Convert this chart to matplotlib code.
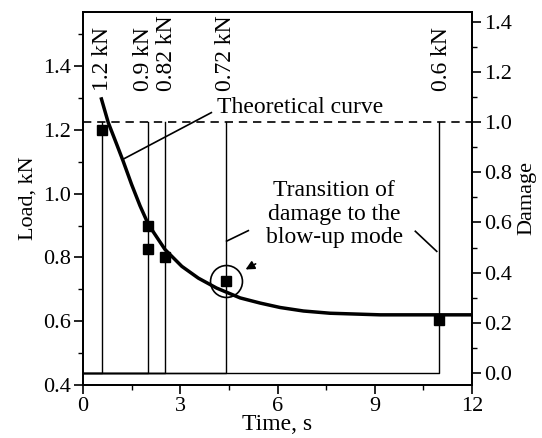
import numpy as np
import matplotlib.pyplot as plt
from matplotlib.ticker import MultipleLocator

plt.rcParams['font.family'] = ['Liberation Serif', 'DejaVu Serif']
plt.rcParams['font.size'] = 16

# theoretical curve
theory_t = [0.556, 0.78, 1.04, 1.24, 1.50, 1.76, 2.02, 2.53, 3.05, 3.56, 4.12, 4.85, 5.46, 6.08, 6.8, 7.62, 9.17, 12.0]
theory_L = [1.302, 1.223, 1.155, 1.102, 1.029, 0.962, 0.903, 0.825, 0.772, 0.735, 0.704, 0.673, 0.657, 0.643, 0.632, 0.625, 0.620, 0.620]

# experimental points
exp_t = [0.6, 2.0, 2.0, 2.53, 4.4, 10.98]
exp_L = [1.20, 0.90, 0.825, 0.80, 0.725, 0.605]

# failure times of the specimens (damage jumps 0 -> 1)
fail_t = [0.6, 2.0, 2.53, 4.4, 10.98]
fail_labels = ['1.2 kN', '0.9 kN', '0.82 kN', '0.72 kN', '0.6 kN']
label_shift = [0, -3, 1, 0, 2]  # points

fig = plt.figure(figsize=(5.42, 4.38), dpi=100)
ax = fig.add_axes([0.153, 0.121, 0.718, 0.852])
ax2 = ax.twinx()

# damage steps
for t in fail_t:
    ax2.plot([0, t, t], [0, 0, 1], color='black', lw=1.0)
ax2.axhline(1.0, color='black', lw=1.2, dashes=(5, 3.5))

ax.plot(theory_t, theory_L, color='black', lw=2.5, solid_capstyle='butt')
ax.plot(exp_t, exp_L, 's', color='black', ms=7.5, zorder=5)

# circle around the 0.72 kN point
ax.plot(exp_t[4], exp_L[4], 'o', mfc='none', mec='black', ms=23, mew=1.2)
ax.annotate('', xy=(4.94, 0.758), xytext=(5.40, 0.784),
            arrowprops=dict(arrowstyle='-|>', color='black', lw=1.2, mutation_scale=13))

# labels above lines
for t, lab, dx in zip(fail_t, fail_labels, label_shift):
    ax.annotate(lab, xy=(t, 1.321), xytext=(dx, 0), textcoords='offset points',
                rotation=90, ha='center', va='bottom', fontsize=17)

ax.text(4.14, 1.271, 'Theoretical curve', ha='left', va='center', fontsize=17)
ax.plot([3.96, 1.24], [1.254, 1.108], color='black', lw=1.2)

ax.text(7.75, 0.935, 'Transition of\ndamage to the\nblow-up mode', ha='center', va='center',
        fontsize=17, linespacing=1.15)
ax.plot([4.43, 5.10], [0.851, 0.884], color='black', lw=1.2)
ax.plot([10.25, 10.91], [0.882, 0.819], color='black', lw=1.2)

ax.set_xlim(0, 12)
ax.set_ylim(0.4, 1.57)
ax2.set_ylim(-0.048, 1.44)

ax.xaxis.set_major_locator(MultipleLocator(3))
ax.xaxis.set_minor_locator(MultipleLocator(1.5))
ax.yaxis.set_major_locator(MultipleLocator(0.2))
ax.yaxis.set_minor_locator(MultipleLocator(0.1))
ax2.yaxis.set_major_locator(MultipleLocator(0.2))
ax2.yaxis.set_minor_locator(MultipleLocator(0.1))

ax.set_yticks(np.arange(0.4, 1.41, 0.2))
ax.set_yticklabels(['0.4', '0.6', '0.8', '1.0', '1.2', '1.4'])
ax2.set_yticks(np.arange(0.0, 1.41, 0.2))
ax2.set_yticklabels(['0.0', '0.2', '0.4', '0.6', '0.8', '1.0', '1.2', '1.4'])

for a in (ax, ax2):
    a.tick_params(which='major', direction='out', length=6.5, width=1.2, labelsize=16, pad=2)
    a.tick_params(which='minor', direction='out', length=3.5, width=1.0)
    for s in a.spines.values():
        s.set_linewidth(1.3)

ax.set_xlabel('Time, s', fontsize=17, labelpad=-1)
ax.set_ylabel('Load, kN', fontsize=16)
ax2.set_ylabel('Damage', fontsize=16)

fig.savefig('out.png', dpi=100)
